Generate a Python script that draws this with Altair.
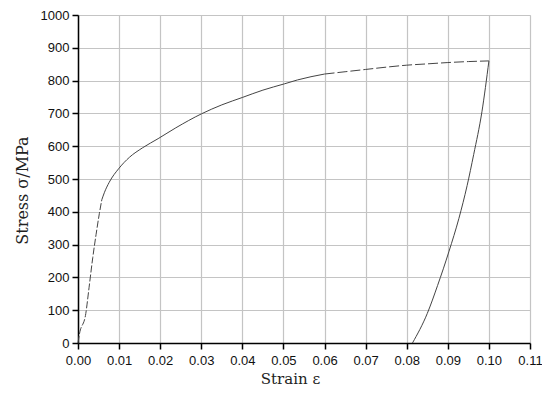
import altair as alt
import pandas as pd

# Loading curve (strain, stress MPa)
load_strain = [0.0, 0.0003, 0.0019, 0.0027, 0.0036, 0.0044, 0.0052, 0.0058, 0.0064, 0.0076,
               0.0100, 0.0125, 0.0157, 0.0195, 0.0238, 0.0301, 0.0350, 0.0401, 0.0450,
               0.0502, 0.0534, 0.0600, 0.0650, 0.0700, 0.0750, 0.0800, 0.0850, 0.0900,
               0.0950, 0.1000]
load_stress = [0, 24, 90, 170, 261, 331, 395, 437, 458, 490,
               533, 566, 595, 623, 656, 699, 726, 749, 771,
               790, 802, 820, 827, 834, 841, 847, 851, 855,
               858, 860]
# Unloading curve (sorted by strain)
unload_strain = [0.0814, 0.0850, 0.0875, 0.0903, 0.0927, 0.0947, 0.0963, 0.0983, 0.1000]
unload_stress = [0, 90, 175, 280, 380, 480, 575, 705, 860]

x_ticks = [round(i * 0.01, 2) for i in range(12)]
y_ticks = list(range(0, 1001, 100))

load_df = pd.DataFrame({"strain": load_strain, "stress": load_stress})
unload_df = pd.DataFrame({"strain": unload_strain, "stress": unload_stress})

x_enc = alt.X("strain:Q",
              scale=alt.Scale(domain=[0, 0.11], nice=False, zero=False),
              axis=alt.Axis(values=x_ticks, format=".2f", title="Strain ε",
                            titleFont="DejaVu Serif", titleFontSize=15, titleFontWeight="normal",
                            titleColor="#222", titlePadding=4, titleX=212,
                            labelFont="Arial", labelFontSize=13, labelColor="#111",
                            labelPadding=5, tickSize=6, tickColor="#000", domainColor="#000",
                            domainWidth=1.5, tickWidth=1.5, labelFlush=False,
                            grid=True, gridColor="#c4c4c4", gridWidth=1.2))
y_enc = alt.Y("stress:Q",
              scale=alt.Scale(domain=[0, 1000], nice=False),
              axis=alt.Axis(values=y_ticks, format="d", title="Stress σ/MPa",
                            titleFont="DejaVu Serif", titleFontSize=16, titleFontWeight="normal",
                            titleColor="#222", titlePadding=10, titleY=175,
                            labelFont="Arial", labelFontSize=13, labelColor="#111",
                            labelPadding=3, tickSize=6, tickColor="#000", domainColor="#000",
                            domainWidth=1.5, tickWidth=1.5, labelFlush=False,
                            grid=True, gridColor="#c4c4c4", gridWidth=1.2))

base = alt.Chart(load_df)
initial = base.transform_filter(alt.datum.strain <= 0.0058).mark_line(
    color="#444", strokeWidth=1, strokeDash=[7, 2], interpolate="monotone").encode(x=x_enc, y=y_enc)
middle = base.transform_filter((alt.datum.strain >= 0.0058) & (alt.datum.strain <= 0.06)).mark_line(
    color="#444", strokeWidth=1, interpolate="monotone").encode(x=x_enc, y=y_enc)
plateau = base.transform_filter(alt.datum.strain >= 0.06).mark_line(
    color="#444", strokeWidth=1, strokeDash=[10, 3], interpolate="monotone").encode(x=x_enc, y=y_enc)
unload = alt.Chart(unload_df).mark_line(
    color="#444", strokeWidth=1, interpolate="monotone").encode(x=x_enc, y=y_enc)

chart = alt.layer(initial, middle, plateau, unload).properties(
    width=452, height=328,
    autosize=alt.AutoSizeParams(type="none"),
    padding={"left": 70, "top": 7, "right": 12, "bottom": 46},
).configure_view(stroke="#222", strokeWidth=1.5).configure(background="white")

chart.save("out.html", embed_options={"renderer": "svg", "actions": False})
